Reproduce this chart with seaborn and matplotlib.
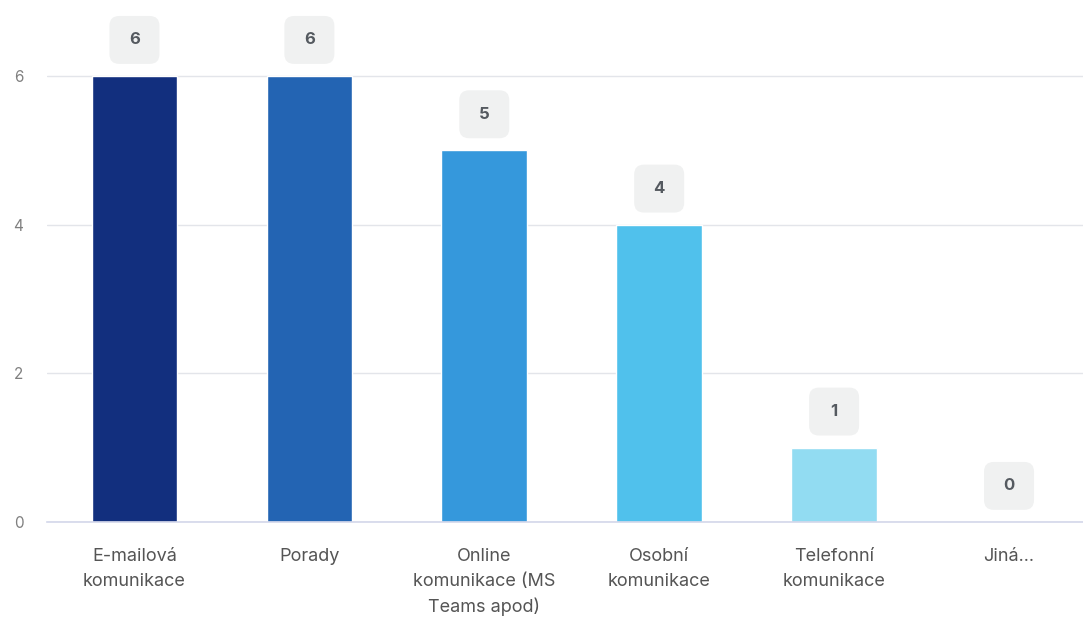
import matplotlib
matplotlib.use("Agg")
import matplotlib.pyplot as plt
import seaborn as sns
import pandas as pd
from matplotlib.offsetbox import AnnotationBbox, DrawingArea
from matplotlib.patches import FancyBboxPatch
from matplotlib.text import Text

categories = ["E-mailová\nkomunikace", "Porady", "Online\nkomunikace (MS\nTeams apod)",
              "Osobní\nkomunikace", "Telefonní\nkomunikace", "Jiná..."]
values = [6, 6, 5, 4, 1, 0]
colors = ["#122f7e", "#2364b3", "#3598dc", "#50c1ec", "#92dcf2", "#c8eefa"]
yticks = [0, 2, 4, 6]

sns.set_theme(style="white")
plt.rcParams["font.family"] = ["Inter", "DejaVu Sans"]

df = pd.DataFrame({"cat": categories, "val": values})
fig = plt.figure(figsize=(10.83, 6.19), dpi=100)
ax = fig.add_axes([0.0434, 0.1567, 1.0 - 0.0434, 0.8165])
sns.barplot(data=df, x="cat", y="val", hue="cat", palette=colors, legend=False,
            width=0.49, ax=ax, saturation=1)

ax.set_xlim(-0.5, 5.423)
ax.set_ylim(0, 6.8)
ax.set_yticks(yticks)
ax.yaxis.grid(True, color="#e3e5ea", linewidth=1)
ax.set_axisbelow(True)
for s in ["top", "right", "left"]:
    ax.spines[s].set_visible(False)
ax.spines["bottom"].set_color("#d3d7ea")
ax.spines["bottom"].set_linewidth(1.2)
ax.tick_params(axis="y", length=0, pad=17, labelsize=11, labelcolor="#808080")
ax.tick_params(axis="x", length=0, pad=19, labelsize=13, labelcolor="#555555")
for lbl in ax.get_xticklabels():
    lbl.set_linespacing(1.55)
    lbl.set_verticalalignment("top")
ax.set_xlabel("")
ax.set_ylabel("")

bw, bh = 36.0, 34.5  # points (~50 x 48 px)
for i, v in enumerate(values):
    da = DrawingArea(bw, bh, 0, 0)
    da.add_artist(FancyBboxPatch((0, 0), bw, bh, boxstyle="round,pad=0,rounding_size=7",
                                 fc="#f0f1f1", ec="none"))
    da.add_artist(Text(bw / 2, bh / 2, str(v), ha="center", va="center", fontsize=12,
                       fontweight="bold", color="#555a60", family=["Inter", "DejaVu Sans"]))
    ab = AnnotationBbox(da, (i, v), xybox=(0, 26), xycoords="data",
                        boxcoords="offset points", frameon=False, pad=0,
                        box_alignment=(0.5, 0.5), annotation_clip=False)
    ax.add_artist(ab)

fig.savefig("out.png", dpi=100)
